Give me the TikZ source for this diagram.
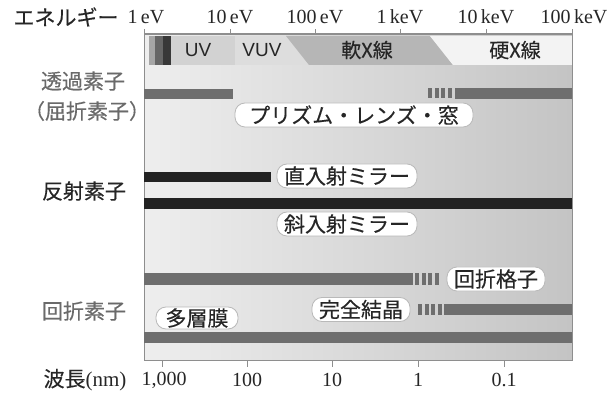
\documentclass[tikz,border=0pt]{standalone}
\usepackage{fontspec}
\setmainfont{Liberation Serif}
\newfontfamily\jp[FakeBold=0.3]{Noto Sans CJK JP}
\newfontfamily\lsans{Liberation Sans}
\definecolor{txt}{HTML}{262626}
\definecolor{txtgray}{HTML}{6A6A6A}
\definecolor{barg}{HTML}{6E6E6E}
\definecolor{bark}{HTML}{222222}
\definecolor{framec}{HTML}{8E8E8E}
\definecolor{bgl}{HTML}{EEEEEE}
\definecolor{bgr}{HTML}{C4C4C4}
\definecolor{uvc}{HTML}{D2D2D2}
\definecolor{vuvc}{HTML}{DDDDDD}
\definecolor{sxc}{HTML}{B6B6B6}
\definecolor{hxc}{HTML}{F3F3F3}
\tikzset{
  lbl/.style={draw=gray!55, line width=0.8pt, fill=white, rounded corners=10pt,
    inner xsep=4pt, inner ysep=0pt, minimum height=24pt,
    font=\jp\fontsize{21}{21}\selectfont, text=txt},
  side/.style={font=\jp\fontsize{21}{21}\selectfont, text=txt},
  sidegray/.style={side, text=txtgray},
  enl/.style={font=\fontsize{20}{20}\selectfont, text=txt, inner sep=0pt},
  wll/.style={font=\fontsize{20}{20}\selectfont, text=txt, inner sep=0pt},
  bandt/.style={font=\lsans\fontsize{19}{19}\selectfont, text=txt, inner sep=0pt},
  bandj/.style={font=\jp\fontsize{20}{20}\selectfont, text=txt, inner sep=0pt},
  tickl/.style={draw=framec, line width=0.9pt},
}
\begin{document}
\begin{tikzpicture}[x=1pt,y=-1pt]
\useasboundingbox (0,0) rectangle (610,395);
\fill[white] (0,0) rectangle (610,395);
% panel background
\shade[left color=bgl, right color=bgr] (144,34) rectangle (572,360);
% band
\fill[vuvc] (235,36) -- (286,36) -- (309,65) -- (235,65) -- cycle;
\fill[sxc] (286,36) -- (430,36) -- (453,65) -- (309,65) -- cycle;
\fill[hxc] (430,36) -- (572,36) -- (572,65) -- (453,65) -- cycle;
\fill[uvc] (171,36) rectangle (235,65);
\fill[gray!70] (149,36) rectangle (155,65);
\fill[black!60] (155,36) rectangle (163,65);
\fill[black!78] (163,36) rectangle (171,65);
% frame
\draw[framec, line width=1pt] (144,34) -- (144,360) -- (572,360) -- (572,34);
\draw[framec, line width=1.2pt] (144,34) -- (572,34);
% top ticks
\coordinate (e1) at (144,34);
\coordinate (e2) at (230,34);
\coordinate (e3) at (315,34);
\coordinate (e4) at (400,34);
\coordinate (e5) at (486,34);
\coordinate (e6) at (572,34);
\foreach \c in {e1,e2,e3,e4,e5,e6} \draw[tickl] (\c) -- ++(0,-5);
\node[enl] (le1) at (146,17) {1\,eV};
\node[enl] (le2) at (230,17) {10\,eV};
\node[enl] (le3) at (315,17) {100\,eV};
\node[enl] (le4) at (400,17) {1\,keV};
\node[enl] (le5) at (486,17) {10\,keV};
\node[enl] (le6) at (574,17) {100\,keV};
\node[side, inner sep=0pt] (energy) at (66,17) {エネルギー};
% bottom ticks
\coordinate (w1) at (162,360);
\coordinate (w2) at (247,360);
\coordinate (w3) at (332,360);
\coordinate (w4) at (418,360);
\coordinate (w5) at (504,360);
\foreach \c in {w1,w2,w3,w4,w5} \draw[tickl] (\c) -- ++(0,7);
\node[wll] (lw1) at (164,380) {1,000};
\node[wll] (lw2) at (247,380) {100};
\node[wll] (lw3) at (332,380) {10};
\node[wll] (lw4) at (418,380) {1};
\node[wll] (lw5) at (504,380) {0.1};
\node[side, inner sep=0pt] (wl) at (85,380) {波長\rmfamily(nm)};
% band texts
\node[bandt] (uv) at (198,50) {UV};
\node[bandt] (vuv) at (262,50) {VUV};
\node[bandj] (sx) at (367,50) {軟X線};
\node[bandj] (hx) at (515,50) {硬X線};
% side labels
\node[sidegray, inner sep=0pt] (tr1) at (83,81) {透過素子};
\node[sidegray, inner sep=0pt] (tr2) at (87,111) {（屈折素子）};
\node[side, inner sep=0pt] (rf) at (84,191) {反射素子};
\node[sidegray, inner sep=0pt] (df) at (84,311) {回折素子};
% transmission bars
\fill[barg] (144,89) rectangle (233,99.5);
\foreach \i in {0,...,3} \fill[barg] ({428+\i*6.67},88) rectangle ++(4,10.5);
\fill[barg] (455,88.5) rectangle (572,99);
\node[lbl, minimum width=238pt] (prism) at (354,115) {プリズム・レンズ・窓};
% reflection bars
\fill[bark] (144,172) rectangle (271,182);
\node[lbl, minimum width=140pt] (nmirror) at (347,176) {直入射ミラー};
\fill[bark] (144,198.5) rectangle (572,209.5);
\node[lbl, minimum width=140pt] (gmirror) at (347,224) {斜入射ミラー};
% diffraction
\fill[barg] (144,273.5) rectangle (413,284.5);
\foreach \i in {0,...,3} \fill[barg] ({415+\i*6.67},273.5) rectangle ++(4,11);
\node[lbl, minimum width=98pt] (grating) at (496,279) {回折格子};
\node[lbl, minimum width=98pt] (crystal) at (361,309.5) {完全結晶};
\foreach \i in {0,...,3} \fill[barg] ({418+\i*6.67},303.5) rectangle ++(4,11);
\fill[barg] (444,303.5) rectangle (572,314.5);
\node[lbl, minimum width=82pt, minimum height=22pt] (multi) at (197,318) {多層膜};
\fill[barg] (144,332) rectangle (572,343);
\end{tikzpicture}
\end{document}
